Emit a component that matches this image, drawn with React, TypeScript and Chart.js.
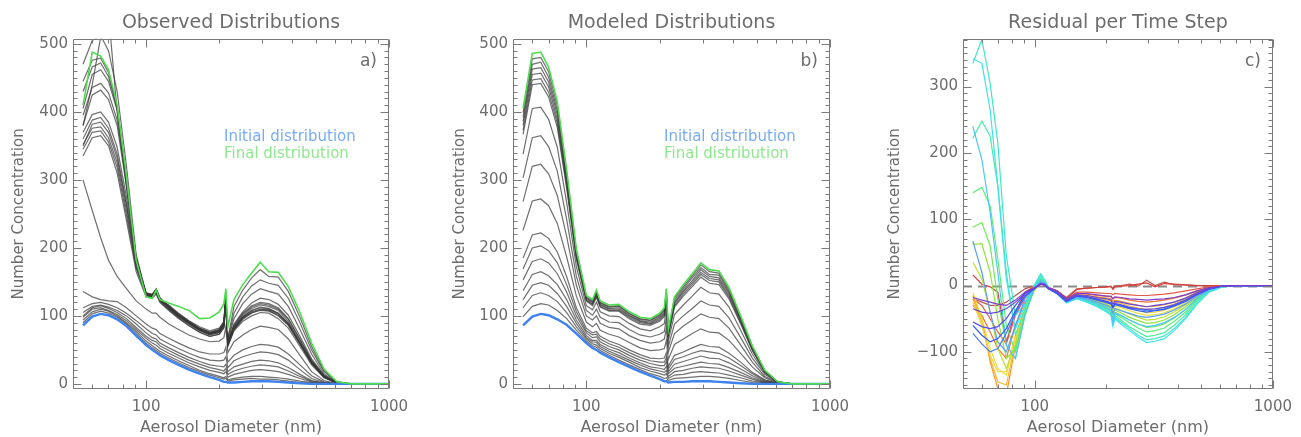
import React, { useEffect, useRef } from 'react';
import { Chart, registerables } from 'chart.js';

Chart.register(...registerables);

// ---------- shared axis data ----------
const DIAMETERS = [55, 60, 65, 70, 76, 83, 91, 100, 106, 110, 114, 124, 136, 150, 166, 183, 200, 209, 213, 217, 230, 250, 272, 295, 320, 350, 385, 430, 480, 540, 610, 700, 1000];
const X_MAJOR = [100, 1000];
const X_MINOR = [60, 70, 80, 90, 200, 300, 400, 500, 600, 700, 800, 900];
const Y_MAJOR_AB = [0, 100, 200, 300, 400, 500];
const Y_MAJOR_C = [-100, 0, 100, 200, 300];

// ---------- panel a: observed ----------
const OBS_INITIAL = [86, 99, 103, 101, 95, 85, 71, 57, 50, 46, 42, 35, 28, 21, 15, 10, 6, 3, 3, 2, 2, 3, 4, 4, 4, 3, 2, 1, 0, 0, 0, 0, 0];
const OBS_FINAL = [410, 488, 482, 462, 410, 305, 182, 128, 126, 138, 124, 119, 114, 108, 96, 97, 106, 118, 140, 84, 124, 146, 163, 179, 165, 164, 143, 105, 60, 22, 3, 0, 0];
const OBS_STEPS = [
  [90, 103, 107, 104, 98, 88, 74, 60, 53, 49, 45, 38, 31, 24, 18, 13, 9, 7, 8, 4, 6, 7, 8, 7, 7, 6, 4, 2, 1, 0, 0, 0, 0],
  [94, 106, 110, 107, 100, 90, 77, 63, 56, 52, 48, 41, 34, 27, 20, 15, 11, 9, 11, 6, 8, 10, 11, 11, 10, 9, 7, 4, 2, 0, 0, 0, 0],
  [98, 110, 112, 108, 102, 93, 80, 67, 60, 57, 52, 45, 38, 31, 25, 20, 17, 15, 18, 10, 14, 17, 20, 21, 20, 18, 14, 8, 3, 1, 0, 0, 0],
  [100, 112, 115, 111, 105, 96, 83, 70, 64, 62, 56, 49, 42, 35, 29, 24, 21, 19, 23, 14, 19, 23, 26, 28, 27, 25, 19, 11, 4, 1, 0, 0, 0],
  [105, 114, 116, 113, 108, 100, 88, 75, 68, 66, 60, 53, 46, 39, 33, 28, 26, 25, 29, 18, 25, 29, 33, 35, 34, 31, 24, 14, 5, 1, 0, 0, 0],
  [112, 118, 120, 117, 112, 104, 93, 81, 74, 72, 66, 59, 52, 45, 39, 35, 34, 35, 40, 24, 34, 40, 44, 47, 46, 43, 35, 21, 8, 2, 0, 0, 0],
  [136, 128, 124, 122, 121, 112, 100, 88, 82, 80, 74, 67, 60, 53, 47, 44, 44, 46, 54, 32, 42, 50, 55, 58, 57, 54, 44, 28, 12, 3, 0, 0, 0],
  [300, 255, 215, 182, 158, 140, 122, 110, 104, 104, 98, 88, 80, 72, 66, 62, 63, 68, 84, 46, 62, 72, 80, 85, 83, 80, 66, 42, 18, 5, 0, 0, 0],
  [335, 362, 365, 350, 310, 240, 165, 128, 126, 132, 120, 108, 96, 86, 76, 70, 73, 82, 116, 55, 78, 92, 100, 105, 104, 96, 82, 55, 28, 9, 1, 0, 0],
  [345, 370, 372, 356, 318, 248, 170, 130, 128, 135, 122, 110, 98, 88, 78, 72, 75, 84, 120, 57, 80, 95, 104, 109, 108, 100, 86, 58, 30, 10, 1, 0, 0],
  [352, 376, 378, 362, 325, 255, 172, 131, 129, 136, 123, 111, 99, 89, 79, 73, 76, 86, 123, 58, 82, 98, 108, 113, 111, 104, 89, 60, 31, 10, 1, 0, 0],
  [350, 382, 385, 370, 332, 262, 176, 132, 130, 137, 124, 112, 100, 90, 80, 74, 78, 88, 126, 60, 84, 100, 111, 116, 114, 108, 92, 62, 33, 11, 1, 0, 0],
  [360, 388, 392, 376, 338, 266, 178, 130, 128, 134, 121, 109, 97, 86, 76, 70, 73, 83, 118, 56, 80, 96, 106, 110, 109, 103, 88, 60, 31, 10, 1, 0, 0],
  [370, 396, 400, 385, 348, 275, 182, 133, 131, 138, 125, 113, 101, 91, 81, 75, 79, 89, 128, 62, 86, 104, 115, 120, 118, 112, 96, 66, 35, 12, 2, 0, 0],
  [380, 425, 432, 418, 380, 290, 180, 132, 130, 136, 124, 112, 100, 90, 80, 74, 78, 88, 126, 60, 88, 106, 119, 126, 124, 117, 101, 70, 37, 13, 2, 0, 0],
  [395, 436, 442, 428, 388, 296, 184, 134, 132, 139, 126, 114, 102, 92, 82, 76, 80, 90, 130, 61, 85, 102, 113, 118, 116, 110, 95, 65, 34, 12, 2, 0, 0],
  [405, 455, 462, 445, 402, 300, 186, 131, 129, 137, 124, 114, 102, 90, 80, 74, 78, 88, 128, 62, 96, 118, 132, 140, 136, 132, 114, 80, 44, 15, 2, 0, 0],
  [430, 466, 472, 452, 405, 302, 184, 130, 128, 137, 123, 115, 103, 92, 82, 76, 80, 90, 132, 64, 104, 128, 144, 153, 148, 145, 126, 90, 50, 18, 3, 0, 0],
  [445, 476, 479, 458, 406, 303, 183, 129, 127, 138, 124, 116, 104, 93, 84, 78, 82, 92, 135, 66, 114, 138, 156, 168, 158, 157, 136, 98, 55, 20, 3, 0, 0],
  [470, 505, 512, 490, 430, 320, 190, 133, 131, 140, 127, 113, 101, 90, 80, 73, 76, 86, 122, 58, 82, 98, 108, 112, 110, 104, 89, 60, 31, 10, 1, 0, 0],
  [380, 440, 510, 545, 400, 290, 180, 133, 131, 139, 126, 113, 101, 90, 80, 74, 77, 87, 124, 59, 81, 97, 105, 108, 107, 101, 87, 59, 31, 10, 1, 0, 0],
];

// ---------- panel b: modeled ----------
const MOD_INITIAL = [86, 99, 103, 101, 95, 87, 74, 60, 53, 50, 46, 39, 32, 25, 18, 12, 7, 4, 4, 2, 3, 3, 4, 4, 4, 3, 2, 1, 0, 0, 0, 0, 0];
const MOD_FINAL = [405, 486, 488, 466, 415, 315, 198, 130, 124, 138, 122, 116, 117, 106, 98, 96, 104, 112, 140, 80, 128, 146, 162, 178, 168, 166, 142, 100, 56, 20, 3, 0, 0];
const MOD_STEPS = [
  [99, 114, 118, 116, 108, 96, 79, 63, 56, 54, 49, 42, 35, 28, 21, 15, 11, 8, 9, 5, 8, 9, 10, 11, 11, 10, 8, 5, 2, 1, 0, 0, 0],
  [112, 130, 134, 130, 121, 105, 84, 66, 59, 57, 52, 45, 39, 32, 24, 19, 15, 13, 15, 8, 13, 14, 17, 18, 17, 16, 13, 9, 4, 2, 0, 0, 0],
  [124, 145, 149, 145, 133, 114, 89, 68, 62, 61, 55, 48, 42, 35, 28, 22, 19, 17, 20, 11, 18, 20, 23, 25, 24, 23, 19, 13, 7, 2, 0, 0, 0],
  [137, 161, 165, 159, 146, 124, 94, 71, 64, 64, 58, 51, 46, 38, 31, 25, 23, 21, 26, 15, 23, 26, 29, 32, 30, 29, 24, 17, 9, 3, 0, 0, 0],
  [153, 180, 184, 178, 162, 135, 100, 75, 68, 69, 62, 55, 50, 42, 35, 30, 27, 27, 33, 18, 29, 33, 37, 41, 38, 37, 31, 22, 12, 4, 1, 0, 0],
  [169, 200, 203, 196, 178, 146, 106, 78, 72, 73, 66, 59, 54, 46, 39, 34, 32, 32, 39, 22, 36, 40, 45, 49, 47, 45, 38, 27, 15, 5, 1, 0, 0],
  [185, 219, 222, 214, 194, 158, 112, 82, 75, 77, 70, 63, 58, 50, 43, 38, 37, 38, 46, 26, 42, 47, 53, 58, 55, 54, 45, 32, 17, 6, 1, 0, 0],
  [226, 269, 272, 262, 236, 187, 129, 91, 84, 89, 79, 73, 69, 61, 53, 49, 50, 52, 64, 36, 58, 66, 74, 81, 76, 75, 64, 45, 25, 9, 1, 0, 0],
  [268, 320, 323, 309, 277, 217, 145, 100, 94, 100, 89, 83, 81, 71, 64, 60, 62, 66, 82, 47, 74, 85, 94, 103, 98, 96, 82, 57, 32, 11, 2, 0, 0],
  [303, 362, 365, 349, 313, 242, 158, 108, 101, 110, 98, 91, 90, 80, 72, 69, 73, 77, 97, 55, 88, 100, 111, 122, 116, 114, 97, 68, 38, 14, 2, 0, 0],
  [338, 405, 407, 389, 348, 267, 172, 115, 109, 120, 106, 100, 99, 89, 81, 78, 84, 89, 111, 64, 102, 116, 129, 142, 134, 132, 113, 79, 44, 16, 2, 0, 0],
  [367, 440, 442, 422, 377, 288, 183, 122, 115, 127, 113, 107, 107, 96, 88, 86, 92, 99, 124, 71, 113, 129, 143, 157, 148, 146, 125, 88, 49, 18, 3, 0, 0],
  [373, 447, 449, 429, 383, 292, 186, 123, 117, 129, 114, 108, 108, 98, 90, 88, 94, 101, 126, 72, 115, 132, 146, 161, 152, 150, 128, 90, 50, 18, 3, 0, 0],
  [380, 455, 457, 437, 389, 297, 188, 124, 118, 131, 116, 110, 110, 100, 92, 89, 96, 103, 129, 74, 118, 135, 149, 164, 155, 153, 131, 92, 52, 18, 3, 0, 0],
  [386, 463, 465, 444, 396, 301, 191, 126, 120, 133, 117, 111, 112, 101, 93, 91, 98, 105, 132, 75, 120, 137, 152, 168, 158, 156, 134, 94, 53, 19, 3, 0, 0],
  [392, 470, 473, 451, 402, 306, 193, 127, 121, 134, 119, 113, 114, 103, 95, 93, 100, 108, 135, 77, 123, 140, 156, 171, 161, 160, 136, 96, 54, 19, 3, 0, 0],
  [399, 478, 480, 459, 409, 310, 196, 129, 123, 136, 120, 114, 115, 104, 96, 94, 102, 110, 137, 78, 126, 143, 159, 175, 165, 163, 139, 98, 55, 20, 3, 0, 0],
];

// ---------- panel c: residuals ----------
const RESID_STEPS = [
  [-18, -22, -25, -28, -30, -22, -10, -3, 2, 1, -3, -8, -20, -12, -12, -14, -16, -16, -20, -17, -18, -20, -21, -22, -21, -20, -18, -14, -8, -3, -1, 0, 0],
  [-35, -40, -42, -40, -35, -25, -12, -4, 3, 2, -4, -10, -22, -14, -15, -18, -20, -22, -28, -24, -25, -28, -30, -32, -30, -28, -25, -19, -11, -4, -1, 0, 0],
  [-55, -62, -65, -62, -50, -30, -12, -4, 2, 1, -5, -11, -23, -15, -17, -20, -24, -26, -32, -27, -29, -33, -35, -36, -35, -33, -29, -22, -13, -5, -1, 0, 0],
  [-60, -75, -85, -80, -65, -38, -15, -5, 3, 1, -5, -12, -24, -16, -18, -22, -26, -28, -34, -29, -31, -35, -38, -40, -38, -36, -31, -24, -14, -5, -1, 0, 0],
  [-72, -88, -100, -95, -72, -42, -16, -4, 3, 2, -4, -11, -23, -15, -17, -21, -25, -27, -33, -28, -30, -34, -36, -38, -37, -35, -30, -23, -13, -5, -1, 0, 0],
  [67, 20, -40, -85, -100, -60, -20, -3, 5, 3, -4, -12, -24, -17, -20, -25, -30, -33, -42, -35, -38, -42, -46, -48, -46, -43, -37, -28, -16, -6, -1, 0, 0],
  [240, 190, 110, 20, -90, -110, -45, -3, 8, 4, -4, -12, -25, -18, -22, -28, -34, -38, -55, -42, -45, -52, -58, -62, -60, -56, -48, -36, -20, -7, -1, 0, 0],
  [342, 335, 265, 150, 10, -65, -30, 0, 15, 8, -2, -12, -26, -20, -25, -32, -40, -45, -62, -50, -58, -68, -78, -86, -84, -80, -68, -50, -28, -10, -2, 0, 0],
  [335, 371, 305, 215, 45, -45, -28, 2, 18, 9, -2, -12, -26, -20, -25, -31, -38, -43, -58, -48, -55, -65, -75, -82, -80, -76, -65, -48, -27, -9, -2, 0, 0],
  [222, 248, 225, 150, 20, -75, -35, 0, 12, 6, -3, -12, -25, -19, -24, -30, -36, -41, -55, -45, -52, -62, -70, -77, -75, -71, -60, -44, -24, -8, -2, 0, 0],
  [140, 148, 120, 40, -60, -100, -40, -2, 10, 5, -3, -12, -25, -18, -23, -28, -34, -38, -50, -42, -48, -56, -64, -70, -68, -64, -54, -40, -22, -8, -2, 0, 0],
  [88, 95, 60, -20, -90, -110, -45, -3, 9, 5, -3, -12, -25, -18, -22, -27, -32, -36, -46, -40, -45, -52, -58, -63, -62, -58, -49, -36, -20, -7, -1, 0, 0],
  [62, 63, 20, -50, -110, -95, -42, -4, 8, 4, -3, -11, -24, -17, -21, -26, -30, -33, -42, -37, -41, -48, -53, -57, -56, -52, -44, -32, -18, -6, -1, 0, 0],
  [35, 10, -40, -95, -125, -90, -40, -4, 7, 4, -3, -11, -24, -17, -20, -24, -28, -31, -38, -34, -37, -43, -48, -52, -51, -47, -40, -29, -16, -6, -1, 0, 0],
  [-10, -50, -95, -125, -135, -80, -35, -5, 6, 3, -4, -11, -24, -16, -19, -23, -26, -28, -34, -31, -33, -38, -42, -45, -44, -41, -35, -26, -14, -5, -1, 0, 0],
  [-25, -60, -105, -130, -130, -75, -33, -5, 6, 3, -4, -11, -23, -15, -18, -21, -24, -26, -31, -28, -30, -35, -38, -41, -40, -37, -32, -24, -13, -5, -1, 0, 0],
  [-20, -55, -110, -145, -150, -85, -35, -6, 5, 3, -4, -11, -23, -14, -16, -19, -22, -23, -28, -25, -27, -31, -34, -36, -35, -33, -28, -21, -12, -4, -1, 0, 0],
  [-15, -50, -115, -155, -165, -90, -36, -6, 5, 2, -4, -10, -22, -13, -15, -17, -19, -20, -24, -22, -24, -27, -30, -32, -31, -29, -25, -19, -10, -4, -1, 0, 0],
  [-30, -45, -70, -95, -110, -60, -25, -4, 4, 2, -4, -10, -22, -12, -13, -15, -16, -17, -20, -18, -19, -22, -24, -25, -24, -22, -19, -14, -8, -3, -1, 0, 0],
  [-20, -30, -50, -70, -88, -45, -18, -3, 4, 2, -3, -9, -21, -10, -10, -11, -12, -12, -14, -12, -13, -14, -15, -15, -14, -13, -11, -8, -5, -2, 0, 0, 0],
  [16, 2, -2, -10, -85, -40, -10, -1, 3, 1, -3, -8, -20, -6, -4, -3, -2, -1, -6, -2, -1, 0, 2, 4, -2, 3, 2, 1, 0, 0, 0, 0, 0],
  [-20, -25, -30, -30, -25, -15, -5, 0, 2, 1, -3, -8, -18, -5, -4, -3, -2, -2, -4, -1, 0, 2, -1, 8, 0, 5, 1, 1, 0, 0, 0, 0, 0],
];
const RESID_COLORS = ['#7d3cc8', '#6848d8', '#4a4ef0', '#2f5cff', '#4878ff', '#5c9cff', '#4cc4ff', '#3ee0f0', '#3ee8c4', '#46eca0', '#58ee74', '#70e858', '#94e040', '#bce030', '#e6e23c', '#f6d040', '#f8b436', '#f89426', '#f07434', '#e45a48', '#d83c3c', '#b85a48'];

// ---------- styles ----------
const FONT = '"DejaVu Sans", sans-serif';
const TEXT_COLOR = '#6c6c6c';
const AXIS_COLOR = '#7a7a7a';
const GRAY_LINE = 'rgba(55,55,55,0.72)';
const BLUE = '#3d82ee';
const GREEN = '#4fdc4f';

const pts = (vals: number[]) => DIAMETERS.map((d, i) => ({ x: d, y: vals[i] }));

type Spec = {
  left: number; width: number; yAxisWidth: number; rightPad: number; yTitlePad: number;
  title: string; tag: string; yMin: number; yMax: number; yMajor: number[];
  datasets: any[]; legend: boolean; zeroLine: boolean;
};

const lineDs = (vals: number[], color: string, width: number) => ({
  data: pts(vals), borderColor: color, borderWidth: width, pointRadius: 0, fill: false, tension: 0,
});

const SPECS: Spec[] = [
  {
    left: 0, width: 420, yAxisWidth: 73, rightPad: 31, yTitlePad: 10,
    title: 'Observed Distributions', tag: 'a)', yMin: -7.5, yMax: 507.5, yMajor: Y_MAJOR_AB,
    legend: true, zeroLine: false,
    datasets: [
      lineDs(OBS_FINAL, GREEN, 1.6),
      lineDs(OBS_INITIAL, BLUE, 2.4),
      ...OBS_STEPS.map(s => lineDs(s, GRAY_LINE, 1.2)),
    ],
  },
  {
    left: 440, width: 420, yAxisWidth: 73, rightPad: 30, yTitlePad: 11,
    title: 'Modeled Distributions', tag: 'b)', yMin: -7.5, yMax: 507.5, yMajor: Y_MAJOR_AB,
    legend: true, zeroLine: false,
    datasets: [
      lineDs(MOD_FINAL, GREEN, 1.6),
      lineDs(MOD_INITIAL, BLUE, 2.4),
      ...MOD_STEPS.map(s => lineDs(s, GRAY_LINE, 1.2)),
    ],
  },
  {
    left: 876, width: 425, yAxisWidth: 87, rightPad: 22, yTitlePad: 10,
    title: 'Residual per Time Step', tag: 'c)', yMin: -156, yMax: 372, yMajor: Y_MAJOR_C,
    legend: false, zeroLine: true,
    datasets: RESID_STEPS.map((s, i) => lineDs(s, RESID_COLORS[i], 1.2)),
  },
];

const idlPlugin = (spec: Spec) => ({
  id: 'idlFrame',
  beforeDatasetsDraw(chart: any) {
    if (!spec.zeroLine) return;
    const { ctx, chartArea: a, scales: { y } } = chart;
    const py = Math.round(y.getPixelForValue(0)) + 0.5;
    ctx.save();
    ctx.strokeStyle = '#8a8a8a';
    ctx.lineWidth = 2;
    ctx.setLineDash([9, 6]);
    ctx.beginPath();
    ctx.moveTo(a.left, py);
    ctx.lineTo(a.right, py);
    ctx.stroke();
    ctx.restore();
  },
  afterDatasetsDraw(chart: any) {
    const { ctx, chartArea: a, scales: { x, y } } = chart;
    const L = Math.round(a.left) + 0.5, R = Math.round(a.right) - 0.5;
    const T = Math.round(a.top) + 0.5, B = Math.round(a.bottom) - 0.5;
    ctx.save();
    ctx.strokeStyle = AXIS_COLOR;
    ctx.lineWidth = 1;
    ctx.beginPath();
    ctx.moveTo(L, T); ctx.lineTo(R, T); ctx.lineTo(R, B); ctx.lineTo(L, B); ctx.closePath();
    const xt = (v: number, len: number) => {
      const px = Math.round(x.getPixelForValue(v)) + 0.5;
      ctx.moveTo(px, B); ctx.lineTo(px, B - len);
      ctx.moveTo(px, T); ctx.lineTo(px, T + len);
    };
    X_MAJOR.forEach(v => xt(v, 8));
    X_MINOR.forEach(v => xt(v, 4));
    for (let v = Math.ceil(spec.yMin / 10) * 10; v <= spec.yMax; v += 10) {
      const len = spec.yMajor.includes(v) ? 8 : 4;
      const py = Math.round(y.getPixelForValue(v)) + 0.5;
      ctx.moveTo(L, py); ctx.lineTo(L + len, py);
      ctx.moveTo(R, py); ctx.lineTo(R - len, py);
    }
    ctx.stroke();
    ctx.restore();
  },
  afterDraw(chart: any) {
    const { ctx, chartArea: a } = chart;
    ctx.save();
    ctx.textBaseline = 'middle';
    ctx.fillStyle = TEXT_COLOR;
    ctx.font = `17px ${FONT}`;
    ctx.textAlign = 'right';
    ctx.fillText(spec.tag, a.right - 12, a.top + 23);
    if (spec.legend) {
      ctx.textAlign = 'left';
      ctx.font = `15px ${FONT}`;
      ctx.fillStyle = '#78abf3';
      ctx.fillText('Initial distribution', a.left + 151, a.top + 98);
      ctx.fillStyle = '#8fe68f';
      ctx.fillText('Final distribution', a.left + 151, a.top + 115);
    }
    ctx.restore();
  },
});

function Panel({ spec }: { spec: Spec }) {
  const ref = useRef<HTMLCanvasElement>(null);
  useEffect(() => {
    const chart = new Chart(ref.current as HTMLCanvasElement, {
      type: 'line',
      data: { datasets: spec.datasets },
      options: {
        responsive: false,
        animation: false,
        events: [],
        layout: { padding: { left: 0, right: spec.rightPad, top: 0, bottom: 0 } },
        plugins: {
          legend: { display: false },
          tooltip: { enabled: false },
          title: {
            display: true, text: spec.title, fullSize: false, color: TEXT_COLOR,
            font: { family: FONT, size: 19, weight: 'normal' },
            padding: { top: 12, bottom: 4 },
          },
        },
        scales: {
          x: {
            type: 'logarithmic', min: 50, max: 1000,
            grid: { display: false, drawTicks: false },
            border: { display: false },
            afterBuildTicks: (s: any) => { s.ticks = X_MAJOR.map(v => ({ value: v })); },
            afterFit: (s: any) => { s.height = 48; },
            ticks: {
              autoSkip: false, maxRotation: 0, padding: 9, color: TEXT_COLOR,
              font: { family: FONT, size: 15 },
              callback: (v: any) => String(v),
            },
            title: {
              display: true, text: 'Aerosol Diameter (nm)', color: TEXT_COLOR,
              font: { family: FONT, size: 16 }, padding: { top: 0, bottom: 0 },
            },
          },
          y: {
            type: 'linear', min: spec.yMin, max: spec.yMax,
            grid: { display: false, drawTicks: false },
            border: { display: false },
            afterBuildTicks: (s: any) => { s.ticks = spec.yMajor.map(v => ({ value: v })); },
            afterFit: (s: any) => { s.width = spec.yAxisWidth; },
            ticks: {
              autoSkip: false, padding: 5, color: TEXT_COLOR,
              font: { family: FONT, size: 15 },
              callback: (v: any) => String(v).replace('-', '\u2212'),
            },
            title: {
              display: true, text: 'Number Concentration', color: TEXT_COLOR,
              font: { family: FONT, size: 15 }, padding: { top: spec.yTitlePad, bottom: 0 },
            },
          },
        },
        elements: { point: { radius: 0 }, line: { tension: 0 } },
      } as any,
      plugins: [idlPlugin(spec)],
    });
    return () => chart.destroy();
  }, [spec]);
  return (
    <canvas
      ref={ref}
      width={spec.width}
      height={437}
      style={{ position: 'absolute', left: spec.left, top: 0, width: spec.width, height: 437 }}
    />
  );
}

export default function App() {
  return (
    <div style={{ position: 'absolute', left: 0, top: 0, width: 1301, height: 437, background: '#ffffff', overflow: 'hidden' }}>
      {SPECS.map((s, i) => <Panel key={i} spec={s} />)}
    </div>
  );
}
